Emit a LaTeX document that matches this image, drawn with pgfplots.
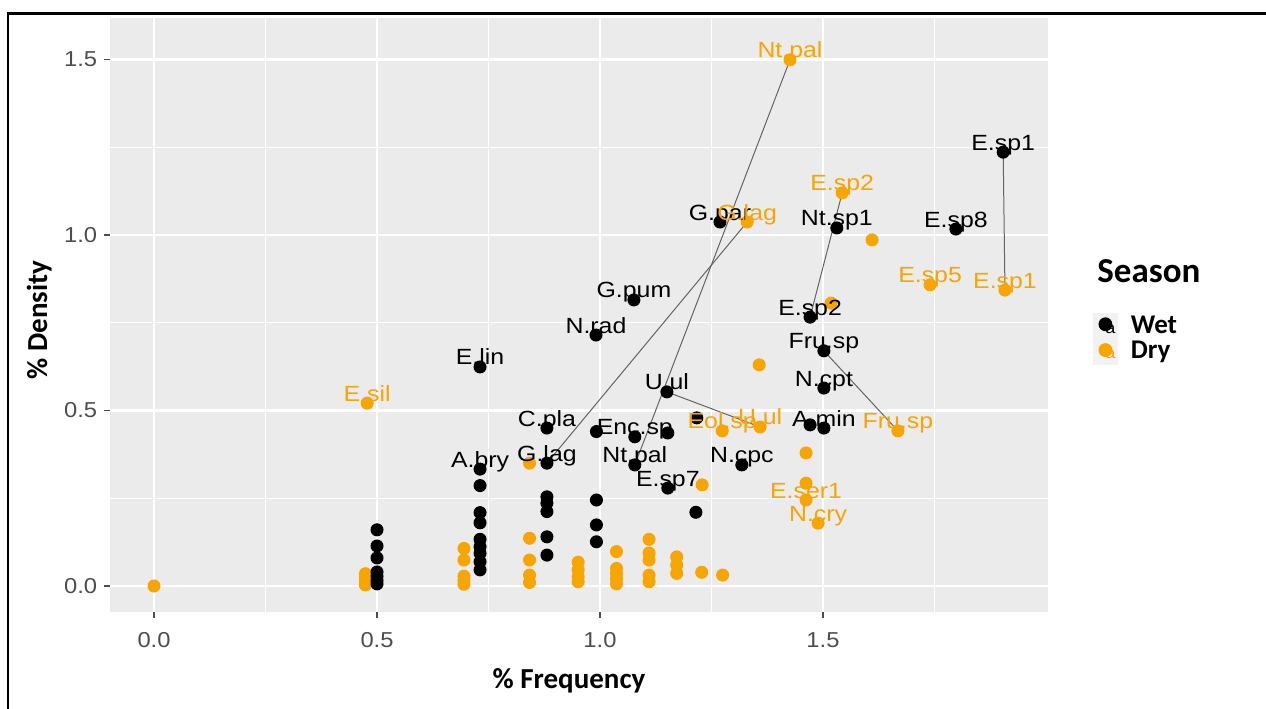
\documentclass[border=0pt]{standalone}
\usepackage{pgfplots}
\pgfplotsset{compat=1.18}
\usepackage{pgfplotstable}
\usepackage{fontspec}
\setmainfont{Liberation Sans}
\newfontfamily\lab[FakeStretch=1.13]{Liberation Sans}
\newfontfamily\tickfont[FakeStretch=1.1]{Liberation Sans}
\newfontfamily\calfont{Carlito}
\definecolor{dryc}{RGB}{247,165,0}
\definecolor{panel}{RGB}{235,235,235}
\definecolor{tickc}{RGB}{77,77,77}
\definecolor{keybg}{RGB}{242,242,242}
\definecolor{linec}{RGB}{100,100,100}

\pgfplotstableread{
x y label
1.904 1.236 E.sp1
1.798 1.017 E.sp8
1.531 1.020 Nt.sp1
1.269 1.037 G.par
1.076 0.815 G.pum
0.991 0.715 N.rad
0.731 0.624 E.lin
1.471 0.766 E.sp2
1.502 0.670 Fru.sp
1.502 0.564 N.cpt
1.502 0.450 A.min
1.150 0.553 U.ul
0.881 0.450 C.pla
1.078 0.425 Enc.sp
0.881 0.350 G.lag
0.731 0.333 A.bry
1.078 0.345 Nt.pal
1.318 0.345 N.cpc
1.152 0.279 E.sp7
}\wetlab

\pgfplotstableread{
x y
1.471 0.459
0.992 0.440
1.152 0.436
1.217 0.479
1.215 0.210
0.500 0.160
0.500 0.114
0.500 0.080
0.500 0.040
0.500 0.028
0.500 0.016
0.500 0.006
0.731 0.286
0.731 0.209
0.731 0.180
0.731 0.133
0.731 0.112
0.731 0.093
0.731 0.069
0.731 0.046
0.881 0.254
0.881 0.236
0.881 0.212
0.881 0.140
0.881 0.088
0.992 0.245
0.992 0.174
0.992 0.126
}\wetpts

\pgfplotstableread{
x y label
1.426 1.499 Nt.pal
1.543 1.120 E.sp2
1.330 1.037 G.lag
1.740 0.858 E.sp5
1.908 0.843 E.sp1
1.359 0.453 U.ul
1.668 0.442 Fru.sp
1.274 0.442 Eol.sp
1.462 0.245 E.ser1
1.489 0.179 N.cry
0.478 0.521 E.sil
}\drylab

\pgfplotstableread{
x y
1.610 0.986
1.518 0.806
1.357 0.630
1.462 0.379
1.462 0.293
1.229 0.288
0.000 0.000
0.842 0.350
0.474 0.035
0.474 0.022
0.474 0.010
0.474 0.003
0.695 0.107
0.695 0.074
0.695 0.028
0.695 0.016
0.695 0.005
0.842 0.136
0.842 0.074
0.842 0.031
0.842 0.010
0.951 0.068
0.951 0.046
0.951 0.026
0.951 0.012
1.037 0.098
1.037 0.050
1.037 0.035
1.037 0.020
1.037 0.006
1.110 0.133
1.110 0.094
1.110 0.074
1.110 0.031
1.110 0.012
1.172 0.083
1.172 0.060
1.172 0.036
1.228 0.039
1.275 0.031
}\drypts

\begin{document}
\begin{tikzpicture}
\useasboundingbox (0,0) rectangle (633bp,-354.5bp);
\draw[line width=1.3bp] (4bp,-360bp) -- (4bp,-6.65bp) -- (640bp,-6.65bp);
\begin{axis}[
  at={(55bp,-306bp)}, anchor=south west,
  width=469bp, height=297bp, scale only axis,
  xmin=-0.0987, xmax=2.0045, ymin=-0.0741, ymax=1.6182,
  axis background/.style={fill=panel},
  axis line style={draw=none},
  xtick={0,0.5,1,1.5}, ytick={0,0.5,1,1.5},
  minor xtick={0.25,0.75,1.25,1.75}, minor ytick={0.25,0.75,1.25},
  grid=both,
  major grid style={white, line width=1.1bp},
  minor grid style={white, line width=0.55bp},
  tick pos=left, tick align=outside,
  major tick length=2.75bp, minor tick length=0pt,
  tick style={tickc, line width=0.6bp},
  xticklabel style={font=\tickfont\fontsize{10.8bp}{12bp}\selectfont, text=tickc, anchor=base, inner sep=0pt, yshift=-14.75bp},
  yticklabel style={font=\tickfont\fontsize{10.8bp}{12bp}\selectfont, text=tickc, anchor=east, inner sep=0pt, xshift=-3.5bp},
  /pgf/number format/fixed, /pgf/number format/fixed zerofill,
  /pgf/number format/precision=1, /pgf/number format/assume math mode=true,
  legend style={at={(axis description cs:1.048,0.5034)}, anchor=north west,
    draw=none, fill=none, inner sep=0pt, outer sep=0pt, row sep=0pt,
    font=\calfont\bfseries\fontsize{13.5bp}{14bp}\selectfont,
    nodes={inner sep=0pt, outer sep=0pt}},
  legend cell align=left,
]
\addlegendimage{legend image code/.code={
  \fill[keybg] (0bp,-6.25bp) rectangle (12bp,6.25bp);
  \node[font=\lab\fontsize{8bp}{8bp}\selectfont, text=black, inner sep=0pt] at (6bp,-2.2bp) {a};
  \fill[black] (6bp,0.8bp) circle (3.25bp);
  \path (18.5bp,0bp);}}
\addlegendimage{legend image code/.code={
  \fill[keybg] (0bp,-6.25bp) rectangle (12bp,6.25bp);
  \node[font=\lab\fontsize{8bp}{8bp}\selectfont, text=dryc, inner sep=0pt] at (6bp,-2.2bp) {a};
  \fill[dryc] (6bp,0.8bp) circle (3.25bp);
  \path (18.5bp,0bp);}}
\legend{Wet,Dry}

% connecting lines
\addplot[linec, line width=0.5bp] coordinates {(0.881,0.350) (1.330,1.037)};
\addplot[linec, line width=0.5bp] coordinates {(1.078,0.345) (1.426,1.499)};
\addplot[linec, line width=0.5bp] coordinates {(1.471,0.766) (1.543,1.120)};
\addplot[linec, line width=0.5bp] coordinates {(1.904,1.236) (1.908,0.843)};
\addplot[linec, line width=0.5bp] coordinates {(1.150,0.553) (1.359,0.453)};
\addplot[linec, line width=0.5bp] coordinates {(1.502,0.670) (1.668,0.442)};

% points
\pgfplotsset{drymark/.style={only marks, mark=*, mark size=3bp, mark options={solid, fill=dryc, draw=dryc, line width=0.5bp}},
             wetmark/.style={only marks, mark=*, mark size=3bp, mark options={solid, fill=black, draw=black, line width=0.5bp}}}
\addplot[drymark] table[x=x,y=y] {\drypts};
\addplot[drymark] table[x=x,y=y] {\drylab};
\addplot[wetmark] table[x=x,y=y] {\wetpts};
\addplot[wetmark] table[x=x,y=y] {\wetlab};

% labels
\addplot[draw=none, mark=none, point meta=explicit symbolic, nodes near coords={\pgfplotspointmeta},
  nodes near coords style={font=\lab\fontsize{11bp}{13bp}\selectfont, text=black, anchor=base, inner sep=0pt, yshift=1bp}]
  table[x=x,y=y,meta=label] {\wetlab};
\addplot[draw=none, mark=none, point meta=explicit symbolic, nodes near coords={\pgfplotspointmeta},
  nodes near coords style={font=\lab\fontsize{11bp}{13bp}\selectfont, text=dryc, anchor=base, inner sep=0pt, yshift=1bp}]
  table[x=x,y=y,meta=label] {\drylab};
\end{axis}
\node[anchor=base west, inner sep=0pt, font=\calfont\bfseries\fontsize{17.5bp}{18bp}\selectfont] at (548.5bp,-141bp) {Season};
\node[anchor=base, inner sep=0pt, font=\calfont\bfseries\fontsize{14.5bp}{16bp}\selectfont] at (284.5bp,-344bp) {\% Frequency};
\node[rotate=90, anchor=base, inner sep=0pt, font=\calfont\bfseries\fontsize{14.5bp}{16bp}\selectfont] at (23.5bp,-160bp) {\% Density};
\end{tikzpicture}
\end{document}
